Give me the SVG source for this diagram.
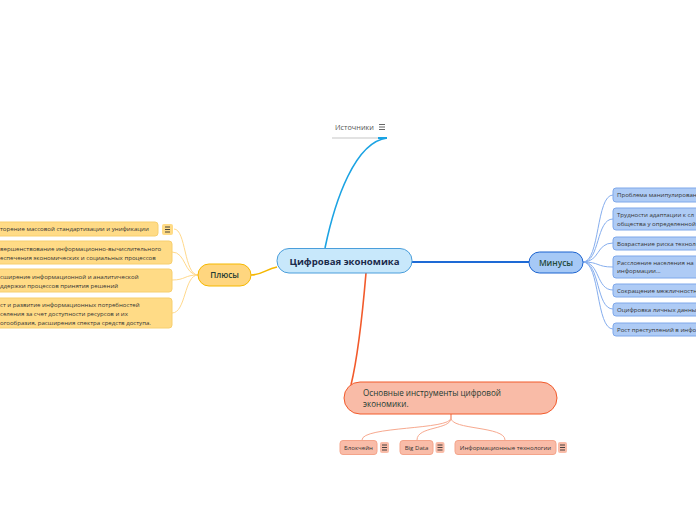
<svg xmlns="http://www.w3.org/2000/svg" width="696" height="520" viewBox="0 0 696 520">
<style>
text{font-family:"Open Sans","Noto Sans","Liberation Sans",sans-serif}
.t{font-size:6.1px;fill:#333}
.pl{fill:#FFDB86;stroke:#F7CF6E;stroke-width:1}
.mn{fill:#AECBF5;stroke:#7FA8EA;stroke-width:1}
.bt{fill:#F9BCA8;stroke:#F4A48A;stroke-width:1}
.cpl{fill:none;stroke:#FFD98C;stroke-width:1}
.cmn{fill:none;stroke:#86AEEE;stroke-width:1}
.cbt{fill:none;stroke:#F7A98F;stroke-width:1}
.ic line{stroke:#333;stroke-width:0.9}
</style>
<rect width="696" height="520" fill="#fff"/>
<g id="connectors">
<path d="M325,248 C335,200 355,142 387,138" fill="none" stroke="#1BA3E3" stroke-width="1.6"/>
<path d="M277,267 C266,269 262,275 251,275" fill="none" stroke="#F5B700" stroke-width="1.6"/>
<path d="M412,262 L529,262" fill="none" stroke="#1E6AD5" stroke-width="1.8"/>
<path d="M366,273 C362,320 357,360 351,385" fill="none" stroke="#F25A2B" stroke-width="1.6"/>
<path class="cpl" d="M198,275 C184,275 186,229 174,229"/>
<path class="cpl" d="M198,275 C184,275 186,252 172,252"/>
<path class="cpl" d="M198,275 C184,275 186,280 172,280"/>
<path class="cpl" d="M198,275 C184,275 186,313 172,313"/>
<path class="cmn" d="M583,262 C600,262 596,195 613,195"/>
<path class="cmn" d="M583,262 C600,262 596,219 613,219"/>
<path class="cmn" d="M583,262 C600,262 596,243 613,243"/>
<path class="cmn" d="M583,262 C600,262 596,267 613,267"/>
<path class="cmn" d="M583,262 C600,262 596,290 613,290"/>
<path class="cmn" d="M583,262 C600,262 596,309 613,309"/>
<path class="cmn" d="M583,262 C600,262 596,329 613,329"/>
<path class="cbt" d="M451,414 L451,418 C451,430 362,426 362,440"/>
<path class="cbt" d="M451,414 L451,418 C451,430 417,426 417,440"/>
<path class="cbt" d="M451,414 L451,418 C451,430 505,426 505,440"/>
</g>
<g id="sources">
<line x1="332" y1="138" x2="387" y2="138" stroke="#E2E2E2" stroke-width="2"/>
<line x1="378" y1="138" x2="387" y2="138" stroke="#1BA3E3" stroke-width="2"/>
<text x="335" y="130" font-size="7.3" fill="#555">Источники</text>
<g stroke="#555" stroke-width="0.9"><line x1="379" y1="124.5" x2="385" y2="124.5"/><line x1="379" y1="127" x2="385" y2="127"/><line x1="379" y1="129.5" x2="385" y2="129.5"/></g>
</g>
<g id="center">
<rect x="277" y="248.5" width="135" height="24.5" rx="12" fill="#C8E8FB" stroke="#4A9EDB" stroke-width="1"/>
<text x="344.5" y="264.5" font-size="9.6" font-weight="bold" text-anchor="middle" fill="#1C2B4B">Цифровая экономика</text>
</g>
<g id="plus">
<rect x="198" y="264" width="53" height="22" rx="11" fill="#FFD67F" stroke="#F5B800" stroke-width="1"/>
<text x="224.5" y="278" font-size="8.2" font-weight="600" text-anchor="middle" fill="#1F3B33">Плюсы</text>
</g>
<g id="plus1">
<rect class="pl" x="-10" y="222" width="168" height="14" rx="3"/>
<text class="t" x="0" y="231.3">торение массовой стандартизации и унификации</text>
<rect x="162" y="224" width="11" height="11" rx="2" fill="#FFDB86"/>
<g class="ic"><line x1="165" y1="227" x2="170" y2="227"/><line x1="165" y1="229.5" x2="170" y2="229.5"/><line x1="165" y1="232" x2="170" y2="232"/></g>
</g>
<g id="plus2">
<rect class="pl" x="-10" y="241" width="182" height="23" rx="3"/>
<text class="t" x="0" y="251">вершенствование информационно-вычислительного</text>
<text class="t" x="0" y="259.5">еспечения экономических и социальных процессов</text>
</g>
<g id="plus3">
<rect class="pl" x="-10" y="269" width="182" height="23" rx="3"/>
<text class="t" x="0" y="279">сширение информационной и аналитической</text>
<text class="t" x="0" y="287.5">ддержки процессов принятия решений</text>
</g>
<g id="plus4">
<rect class="pl" x="-10" y="298" width="182" height="30" rx="3"/>
<text class="t" x="0" y="307">ст и развитие информационных потребностей</text>
<text class="t" x="0" y="315.5">селения за счет доступности ресурсов и их</text>
<text class="t" x="0" y="324.5">огообразия, расширения спектра средств доступа.</text>
</g>
<g id="minus">
<rect x="529" y="252" width="54" height="21" rx="10.5" fill="#A6C9F6" stroke="#1A62CF" stroke-width="1"/>
<text x="556" y="265.5" font-size="8.4" font-weight="600" text-anchor="middle" fill="#1F4A3A">Минусы</text>
</g>
<g id="minus1"><rect class="mn" x="613" y="188" width="90" height="14" rx="3"/><text class="t" x="617" y="197.3">Проблема манипулирован</text></g>
<g id="minus2"><rect class="mn" x="613" y="208" width="90" height="22" rx="3"/><text class="t" x="617" y="216.5">Трудности адаптации к сл</text><text class="t" x="617" y="225.5">общества у определенной</text></g>
<g id="minus3"><rect class="mn" x="613" y="237" width="90" height="13" rx="3"/><text class="t" x="617" y="246">Возрастание риска техноло</text></g>
<g id="minus4"><rect class="mn" x="613" y="256" width="90" height="22" rx="3"/><text class="t" x="617" y="264.5">Расслоение населения на</text><text class="t" x="617" y="273">информации...</text></g>
<g id="minus5"><rect class="mn" x="613" y="284" width="90" height="13" rx="3"/><text class="t" x="617" y="293">Сокращение межличностн</text></g>
<g id="minus6"><rect class="mn" x="613" y="303" width="90" height="13" rx="3"/><text class="t" x="617" y="312">Оцифровка личных данны</text></g>
<g id="minus7"><rect class="mn" x="613" y="323" width="90" height="13" rx="3"/><text class="t" x="617" y="332">Рост преступлений в инфо</text></g>
<g id="tools">
<rect x="344" y="382" width="213" height="32" rx="16" fill="#F9BBA7" stroke="#F25A2B" stroke-width="1"/>
<text x="363" y="396" font-size="8.1" font-weight="500" fill="#1F3B33">Основные инструменты цифровой</text>
<text x="363" y="406.5" font-size="8.1" font-weight="500" fill="#1F3B33">экономики.</text>
</g>
<g id="tool1">
<rect class="bt" x="340" y="440.5" width="37" height="14" rx="3"/>
<text class="t" x="358.5" y="450" text-anchor="middle">Блокчейн</text>
<rect x="380" y="442" width="9" height="11" rx="2" fill="#F9BCA8"/>
<g class="ic"><line x1="382" y1="445" x2="387" y2="445"/><line x1="382" y1="447.5" x2="387" y2="447.5"/><line x1="382" y1="450" x2="387" y2="450"/></g>
</g>
<g id="tool2">
<rect class="bt" x="400" y="440.5" width="33" height="14" rx="3"/>
<text class="t" x="416.5" y="450" text-anchor="middle">Big Data</text>
<rect x="435.5" y="442" width="9" height="11" rx="2" fill="#F9BCA8"/>
<g class="ic"><line x1="437.5" y1="445" x2="442.5" y2="445"/><line x1="437.5" y1="447.5" x2="442.5" y2="447.5"/><line x1="437.5" y1="450" x2="442.5" y2="450"/></g>
</g>
<g id="tool3">
<rect class="bt" x="455" y="440.5" width="101" height="14" rx="3"/>
<text class="t" x="505.5" y="450" text-anchor="middle">Информационные технологии</text>
<rect x="558" y="442" width="9" height="11" rx="2" fill="#F9BCA8"/>
<g class="ic"><line x1="560" y1="445" x2="565" y2="445"/><line x1="560" y1="447.5" x2="565" y2="447.5"/><line x1="560" y1="450" x2="565" y2="450"/></g>
</g>
</svg>
